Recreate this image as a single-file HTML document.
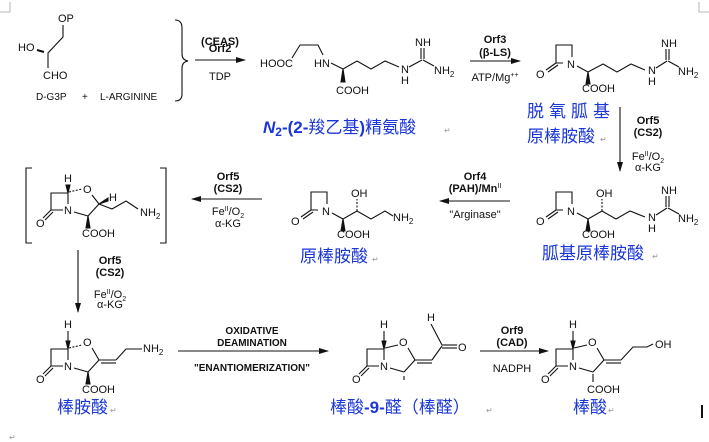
<!DOCTYPE html>
<html><head><meta charset="utf-8"><style>
html,body{margin:0;padding:0;background:#fff;width:709px;height:442px;overflow:hidden}
svg{display:block}
text{font-family:"Liberation Sans",Arial,sans-serif;font-size:11px;fill:#111}
.b{font-weight:bold}
.cj{font-family:"Liberation Sans","Noto Sans CJK SC",sans-serif;font-size:17px;fill:#1a35d8}
line,path,polyline{stroke:#111;stroke-width:1.1;fill:none}
.m{font-size:8px;fill:#999}
</style></head><body>
<svg width="709" height="442" viewBox="0 0 709 442">
<defs>
<marker id="ah" markerWidth="10" markerHeight="8" refX="9" refY="4" orient="auto" markerUnits="userSpaceOnUse"><path d="M0,1 L10,4 L0,7 Z" style="fill:#111;stroke:none"/></marker>
</defs>
<polyline points="10,2 10,12 0,12" style="stroke:#bbb"/>
<polyline points="699,2 699,12 709,12" style="stroke:#bbb"/>

<!-- D-G3P -->
<text x="58" y="22">OP</text>
<text x="18" y="51">HO</text>
<text x="43" y="79">CHO</text>
<polyline points="63,25 63,37 48,53 48,68"/>
<line x1="37" y1="50" x2="44" y2="52" style="stroke-width:2"/>
<text x="36" y="100" style="font-size:10px">D-G3P</text>
<text x="82" y="100" style="font-size:10px">+</text>
<text x="100" y="100" style="font-size:10px">L-ARGININE</text>
<path d="M175,20 Q182,20 182,28 L182,54 Q182,60 188,61 Q182,62 182,68 L182,94 Q182,101 175,101"/>

<line x1="195" y1="60" x2="245" y2="60" marker-end="url(#ah)"/>
<text x="220" y="45" text-anchor="middle" class="b">(CEAS)</text>
<text x="220" y="52" text-anchor="middle" class="b">Orf2</text>
<text x="220" y="80" text-anchor="middle">TDP</text>

<!-- CEA -->
<text x="260" y="67">HOOC</text>
<polyline points="292,58 300,45 318,45 323,55"/>
<text x="314" y="67">HN</text>
<polyline points="331,63 343,69 357,61 371,69 385,61 399,67"/>
<path d="M343,69 L341,82 L345,82 Z" style="fill:#111"/>
<text x="336" y="94">COOH</text>
<text x="401" y="73">N</text>
<text x="401" y="84">H</text>
<line x1="409" y1="67" x2="422" y2="60"/>
<line x1="421" y1="59" x2="421" y2="48"/><line x1="424" y1="59" x2="424" y2="48"/>
<text x="415" y="46">NH</text>
<line x1="423" y1="60" x2="434" y2="66"/>
<text x="434" y="74">NH<tspan dy="3" style="font-size:8px">2</tspan></text>
<text x="263" y="133" class="cj"><tspan style="font-weight:bold;font-style:italic">N</tspan><tspan style="font-weight:bold;font-size:12px" dy="3">2</tspan><tspan dy="-3" style="font-weight:bold">-(2-</tspan>羧乙基<tspan style="font-weight:bold">)</tspan>精氨酸</text>
<text x="444" y="133" class="m">↵</text>

<line x1="470" y1="61" x2="520" y2="61" marker-end="url(#ah)"/>
<text x="495" y="43" text-anchor="middle" class="b">Orf3</text>
<text x="495" y="56" text-anchor="middle" class="b">(β-LS)</text>
<text x="495" y="81" text-anchor="middle">ATP/Mg<tspan dy="-4" style="font-size:7px">++</tspan></text>

<!-- DGPC -->
<polyline points="563,63 556,63 556,45 572,45 572,57"/>
<line x1="556" y1="63" x2="546" y2="70"/><line x1="558" y1="65" x2="548" y2="72"/>
<text x="536" y="78">O</text>
<text x="567" y="68">N</text>
<polyline points="577,66 588,72 603,64 617,72 631,64 645,70"/>
<path d="M588,72 L586,84 L590,84 Z" style="fill:#111"/>
<text x="582" y="92">COOH</text>
<text x="648" y="74">N</text>
<text x="648" y="85">H</text>
<line x1="656" y1="68" x2="667" y2="61"/>
<line x1="666" y1="60" x2="666" y2="49"/><line x1="669" y1="60" x2="669" y2="49"/>
<text x="661" y="47">NH</text>
<line x1="668" y1="61" x2="679" y2="67"/>
<text x="678" y="75">NH<tspan dy="3" style="font-size:8px">2</tspan></text>
<text x="527" y="117" class="cj" style="letter-spacing:5px">脱氧胍基</text>
<text x="527" y="142" class="cj">原棒胺酸</text>
<text x="600" y="142" class="m">↵</text>

<line x1="620" y1="107" x2="620" y2="171" marker-end="url(#ah)"/>
<text x="648" y="124" text-anchor="middle" class="b">Orf5</text>
<text x="648" y="136" text-anchor="middle" class="b">(CS2)</text>
<text x="648" y="160" text-anchor="middle">Fe<tspan dy="-4" style="font-size:7px">II</tspan><tspan dy="4">/O</tspan><tspan dy="3" style="font-size:7px">2</tspan></text>
<text x="648" y="171" text-anchor="middle">α-KG</text>

<!-- GPC -->
<polyline points="563,210 556,210 556,192 572,192 572,204"/>
<line x1="556" y1="210" x2="546" y2="217"/><line x1="558" y1="212" x2="548" y2="219"/>
<text x="536" y="225">O</text>
<text x="567" y="215">N</text>
<polyline points="577,213 588,219 602,211 616,219 630,211 645,217"/>
<path d="M588,219 L586,231 L590,231 Z" style="fill:#111"/>
<line x1="602" y1="211" x2="602" y2="199" style="stroke-dasharray:2,1.5"/>
<text x="596" y="197">OH</text>
<text x="582" y="238">COOH</text>
<text x="648" y="221">N</text>
<text x="648" y="232">H</text>
<line x1="656" y1="215" x2="667" y2="208"/>
<line x1="666" y1="207" x2="666" y2="196"/><line x1="669" y1="207" x2="669" y2="196"/>
<text x="661" y="194">NH</text>
<line x1="668" y1="208" x2="679" y2="214"/>
<text x="678" y="222">NH<tspan dy="3" style="font-size:8px">2</tspan></text>
<text x="542" y="259" class="cj">胍基原棒胺酸</text>
<text x="652" y="259" class="m">↵</text>

<line x1="510" y1="201" x2="440" y2="201" marker-end="url(#ah)"/>
<text x="475" y="180" text-anchor="middle" class="b">Orf4</text>
<text x="475" y="192" text-anchor="middle" class="b">(PAH)/Mn<tspan dy="-4" style="font-size:7px;font-weight:normal">II</tspan></text>
<text x="475" y="218" text-anchor="middle">"Arginase"</text>

<!-- PC -->
<polyline points="318,210 311,210 311,192 327,192 327,204"/>
<line x1="311" y1="210" x2="301" y2="217"/><line x1="313" y1="212" x2="303" y2="219"/>
<text x="291" y="225">O</text>
<text x="322" y="215">N</text>
<polyline points="332,213 343,219 357,211 371,219 385,211 393,216"/>
<path d="M343,219 L341,231 L345,231 Z" style="fill:#111"/>
<line x1="357" y1="211" x2="357" y2="199" style="stroke-dasharray:2,1.5"/>
<text x="351" y="197">OH</text>
<text x="337" y="238">COOH</text>
<text x="393" y="221">NH<tspan dy="3" style="font-size:8px">2</tspan></text>
<text x="300" y="262" class="cj">原棒胺酸</text>
<text x="372" y="262" class="m">↵</text>

<line x1="262" y1="199" x2="192" y2="199" marker-end="url(#ah)"/>
<text x="228" y="180" text-anchor="middle" class="b">Orf5</text>
<text x="228" y="192" text-anchor="middle" class="b">(CS2)</text>
<text x="228" y="215" text-anchor="middle">Fe<tspan dy="-4" style="font-size:7px">II</tspan><tspan dy="4">/O</tspan><tspan dy="3" style="font-size:7px">2</tspan></text>
<text x="228" y="227" text-anchor="middle">α-KG</text>

<!-- bracket compound -->
<polyline points="32,168 26,168 26,243 32,243"/>
<polyline points="160,168 166,168 166,243 160,243"/>
<g transform="translate(68,210)">
<text x="-4" y="4">N</text>
<polyline points="-5,0 -17,0 -17,-17 0,-17 0,-6"/>
<line x1="-17" y1="0" x2="-25" y2="8"/><line x1="-15" y1="2" x2="-23" y2="10"/>
<text x="-32" y="17">O</text>
<path d="M0,-17 L-2,-25 L2,-25 Z" style="fill:#111"/>
<text x="-4" y="-28">H</text>
<line x1="1" y1="-18" x2="14" y2="-21" style="stroke-dasharray:2,1.5"/>
<text x="15" y="-17">O</text>
<line x1="24" y1="-15" x2="31" y2="-6"/>
<line x1="6" y1="2" x2="20" y2="6"/>
<line x1="20" y1="6" x2="31" y2="-6"/>
<path d="M20,6 L18,18 L22,18 Z" style="fill:#111"/>
<text x="14" y="27">COOH</text>
<path d="M31,-6 L40,-12 L40,-9 Z" style="fill:#111"/>
<text x="41" y="-9">H</text>
<polyline points="31,-6 44,-1 58,-9 70,-1"/>
<text x="72" y="6">NH<tspan dy="3" style="font-size:8px">2</tspan></text>
</g>

<line x1="78" y1="250" x2="78" y2="312" marker-end="url(#ah)"/>
<text x="110" y="264" text-anchor="middle" class="b">Orf5</text>
<text x="110" y="276" text-anchor="middle" class="b">(CS2)</text>
<text x="110" y="298" text-anchor="middle">Fe<tspan dy="-4" style="font-size:7px">II</tspan><tspan dy="4">/O</tspan><tspan dy="3" style="font-size:7px">2</tspan></text>
<text x="110" y="308" text-anchor="middle">α-KG</text>

<!-- clavaminic acid -->
<g transform="translate(68,366)">
<text x="-4" y="4">N</text>
<polyline points="-5,0 -17,0 -17,-17 0,-17 0,-6"/>
<line x1="-17" y1="0" x2="-25" y2="8"/><line x1="-15" y1="2" x2="-23" y2="10"/>
<text x="-32" y="17">O</text>
<path d="M0,-17 L-2,-25 L2,-25 Z" style="fill:#111"/>
<text x="-4" y="-38">H</text>
<line x1="0" y1="-25" x2="0" y2="-35"/>
<line x1="1" y1="-18" x2="14" y2="-21" style="stroke-dasharray:2,1.5"/>
<text x="15" y="-20">O</text>
<line x1="24" y1="-18" x2="31" y2="-6"/>
<line x1="6" y1="2" x2="20" y2="6"/>
<line x1="20" y1="6" x2="31" y2="-6"/>
<path d="M20,6 L18,18 L22,18 Z" style="fill:#111"/>
<text x="14" y="27">COOH</text>
<line x1="31" y1="-6" x2="48" y2="-6"/><line x1="33" y1="-3" x2="48" y2="-3"/>
<polyline points="48,-6 58,-17 74,-17"/>
<text x="75" y="-14">NH<tspan dy="3" style="font-size:8px">2</tspan></text>
</g>
<text x="57" y="413" class="cj">棒胺酸</text>
<text x="110" y="413" class="m">↵</text>

<line x1="178" y1="351" x2="328" y2="351" marker-end="url(#ah)"/>
<text x="252" y="334" text-anchor="middle" class="b" style="font-size:10px">OXIDATIVE</text>
<text x="252" y="346" text-anchor="middle" class="b" style="font-size:10px">DEAMINATION</text>
<text x="252" y="371" text-anchor="middle" class="b" style="font-size:10px">"ENANTIOMERIZATION"</text>

<!-- clavaldehyde -->
<g transform="translate(384,366)">
<text x="-4" y="4">N</text>
<polyline points="-5,0 -17,0 -17,-17 0,-17 0,-6"/>
<line x1="-17" y1="0" x2="-25" y2="8"/><line x1="-15" y1="2" x2="-23" y2="10"/>
<text x="-32" y="17">O</text>
<path d="M0,-17 L-2,-25 L2,-25 Z" style="fill:#111"/>
<text x="-4" y="-38">H</text>
<line x1="0" y1="-25" x2="0" y2="-35"/>
<line x1="1" y1="-18" x2="14" y2="-21"/>
<text x="15" y="-20">O</text>
<line x1="24" y1="-18" x2="31" y2="-6"/>
<line x1="6" y1="2" x2="20" y2="6"/>
<line x1="20" y1="6" x2="31" y2="-6"/>
<line x1="20" y1="10" x2="20" y2="14"/>
<line x1="31" y1="-6" x2="48" y2="-6"/><line x1="33" y1="-3" x2="48" y2="-3"/>
<polyline points="48,-6 58,-20"/>
<text x="43" y="-45">H</text>
<line x1="47" y1="-42" x2="58" y2="-21"/>
<line x1="58" y1="-21" x2="73" y2="-21"/><line x1="58" y1="-18" x2="73" y2="-18"/>
<text x="74" y="-15">O</text>
</g>
<text x="330" y="413" class="cj">棒酸<tspan style="font-weight:bold">-9-</tspan>醛（棒醛）</text>
<text x="486" y="413" class="m">↵</text>

<line x1="480" y1="351" x2="548" y2="351" marker-end="url(#ah)"/>
<text x="512" y="334" text-anchor="middle" class="b">Orf9</text>
<text x="512" y="346" text-anchor="middle" class="b">(CAD)</text>
<text x="512" y="372" text-anchor="middle">NADPH</text>

<!-- clavulanic acid -->
<g transform="translate(573,366)">
<text x="-4" y="4">N</text>
<polyline points="-5,0 -17,0 -17,-17 0,-17 0,-6"/>
<line x1="-17" y1="0" x2="-25" y2="8"/><line x1="-15" y1="2" x2="-23" y2="10"/>
<text x="-32" y="17">O</text>
<path d="M0,-17 L-2,-25 L2,-25 Z" style="fill:#111"/>
<text x="-4" y="-38">H</text>
<line x1="0" y1="-25" x2="0" y2="-35"/>
<line x1="1" y1="-18" x2="14" y2="-21"/>
<text x="15" y="-20">O</text>
<line x1="24" y1="-18" x2="31" y2="-6"/>
<line x1="6" y1="2" x2="20" y2="6"/>
<line x1="20" y1="6" x2="31" y2="-6"/>
<line x1="20" y1="8" x2="20" y2="16"/>
<text x="14" y="27">COOH</text>
<line x1="31" y1="-6" x2="48" y2="-6"/><line x1="33" y1="-3" x2="48" y2="-3"/>
<polyline points="48,-6 60,-19 74,-19 80,-22"/>
<text x="82" y="-18">OH</text>
</g>
<text x="573" y="413" class="cj">棒酸</text>
<text x="608" y="413" class="m">↵</text>
<line x1="702" y1="405" x2="702" y2="418" style="stroke-width:2"/>
<text x="9" y="440" class="m">↵</text>
</svg>
</body></html>
